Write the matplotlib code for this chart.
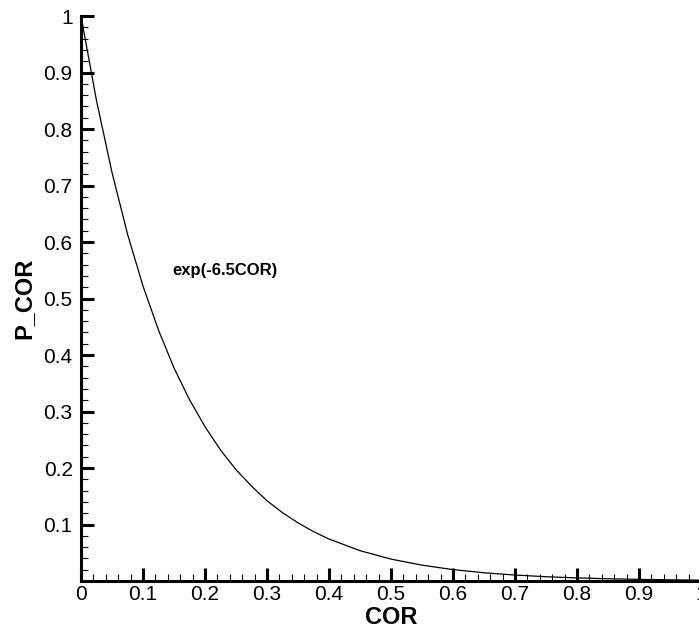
import numpy as np
import matplotlib
matplotlib.use("Agg")
import matplotlib.pyplot as plt
from matplotlib.ticker import MultipleLocator

plt.rcParams['font.family'] = ['Liberation Sans', 'DejaVu Sans']

# values
cor = [0.0, 0.025, 0.05, 0.075, 0.1, 0.125, 0.15, 0.175, 0.2, 0.225, 0.25,
       0.275, 0.3, 0.325, 0.35, 0.375, 0.4, 0.45, 0.5, 0.55, 0.6, 0.65,
       0.7, 0.75, 0.8, 0.85, 0.9, 0.95, 1.0]
p_cor = [1.0, 0.850, 0.723, 0.614, 0.522, 0.444, 0.377, 0.321, 0.273, 0.232, 0.197,
         0.168, 0.142, 0.121, 0.103, 0.0874, 0.0743, 0.0537, 0.0388, 0.0281, 0.0202, 0.0146,
         0.0106, 0.0076, 0.0055, 0.0040, 0.0029, 0.0021, 0.0015]
x_ticks = [0, 0.1, 0.2, 0.3, 0.4, 0.5, 0.6, 0.7, 0.8, 0.9, 1.0]
x_labels = ["0", "0.1", "0.2", "0.3", "0.4", "0.5", "0.6", "0.7", "0.8", "0.9", "1"]
y_ticks = [0.1, 0.2, 0.3, 0.4, 0.5, 0.6, 0.7, 0.8, 0.9, 1.0]
y_labels = ["0.1", "0.2", "0.3", "0.4", "0.5", "0.6", "0.7", "0.8", "0.9", "1"]

fig = plt.figure(figsize=(6.99, 6.35), dpi=100)
ax = fig.add_axes([0.1159, 0.085, 0.887, 0.8898])

ax.plot(cor, p_cor, color="black", lw=0.9)
ax.text(0.147, 0.55, "exp(-6.5COR)", fontsize=12, fontweight="bold", va="center")

ax.set_xlim(0, 1)
ax.set_ylim(0, 1)
ax.set_xticks(x_ticks)
ax.set_xticklabels(x_labels)
ax.set_yticks(y_ticks)
ax.set_yticklabels(y_labels)
ax.xaxis.set_minor_locator(MultipleLocator(0.02))
ax.yaxis.set_minor_locator(MultipleLocator(0.02))

ax.spines['top'].set_visible(False)
ax.spines['right'].set_visible(False)
for s in ['left', 'bottom']:
    ax.spines[s].set_linewidth(2.2)

ax.tick_params(which='major', direction='in', length=9.5, width=2.2, labelsize=15, pad=6)
ax.tick_params(which='minor', direction='in', length=5, width=0.8)
ax.tick_params(axis='x', which='major', pad=3)

ax.set_xlabel("COR", fontsize=17, fontweight="bold", labelpad=1)
ax.set_ylabel("P_COR", fontsize=17, fontweight="bold", labelpad=6)

fig.savefig("out.png", dpi=100)
